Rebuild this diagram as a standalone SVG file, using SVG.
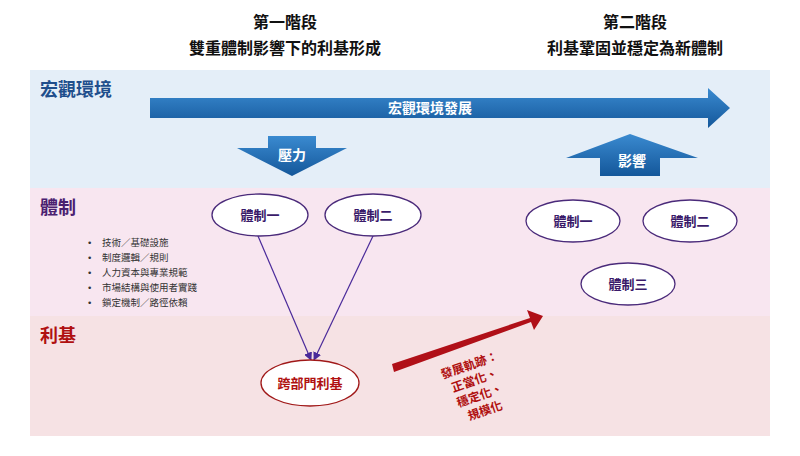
<svg xmlns="http://www.w3.org/2000/svg" width="800" height="456" viewBox="0 0 800 456">
<style>
text{font-family:"Liberation Sans","Noto Sans CJK TC",sans-serif}
.h{font-size:16px;fill:#111;text-anchor:middle;font-weight:bold}
.sec{font-size:18px;font-weight:bold}
.n{font-size:13px;font-weight:bold;fill:#3a1a6a;text-anchor:middle}
.e{fill:#fff;stroke:#4a2a7a;stroke-width:1.3}
.li{font-size:9.5px;fill:#333}
</style>
<defs><marker id="a" viewBox="0 0 10 10" refX="9" refY="5" markerWidth="7" markerHeight="7" orient="auto"><path d="M0,0L10,5L0,10z" fill="#4a2a9a"/></marker>
<linearGradient id="g" x1="0" y1="0" x2="0" y2="1"><stop offset="0" stop-color="#3a8ad0"/><stop offset="1" stop-color="#14579a"/></linearGradient></defs>
<rect x="0" y="0" width="800" height="456" fill="#fff"/>
<rect x="30" y="70" width="740" height="118" fill="#e4eef8"/>
<rect x="30" y="188" width="740" height="128" fill="#f8e6f0"/>
<rect x="30" y="316" width="740" height="120" fill="#f6e2e4"/>
<text class="h" x="285" y="28">第一階段</text>
<text class="h" x="285" y="54">雙重體制影響下的利基形成</text>
<text class="h" x="635" y="28">第二階段</text>
<text class="h" x="635" y="54">利基鞏固並穩定為新體制</text>
<text class="sec" x="40" y="96" fill="#1f4e8c">宏觀環境</text>
<text class="sec" x="40" y="214" fill="#4a2070">體制</text>
<text class="sec" x="40" y="342" fill="#b01010">利基</text>
<g id="macro"><path d="M150,98H708V88L730,108L708,128V118H150z" fill="url(#g)"/><text x="430" y="113" font-size="14" font-weight="bold" fill="#fff" text-anchor="middle">宏觀環境發展</text></g>
<g id="pressure"><path d="M268,136H316V148H347L292,176L237,148H268z" fill="url(#g)"/><text x="292" y="160" font-size="14" font-weight="bold" fill="#fff" text-anchor="middle">壓力</text></g>
<g id="influence"><path d="M600,176H660V158H698L630,134L566,158H600z" fill="url(#g)"/><text x="632" y="166" font-size="14" font-weight="bold" fill="#fff" text-anchor="middle">影響</text></g>
<g id="list" class="li">
<text x="88" y="246">•</text><text x="88" y="261">•</text><text x="88" y="276">•</text><text x="88" y="291">•</text><text x="88" y="306">•</text>
<text x="102" y="246">技術／基礎設施</text><text x="102" y="261">制度邏輯／規則</text><text x="102" y="276">人力資本與專業規範</text><text x="102" y="291">市場結構與使用者實踐</text><text x="102" y="306">鎖定機制／路徑依賴</text></g>
<g id="connectors" stroke="#4a2a9a" stroke-width="1.2" fill="none">
<line x1="258" y1="236" x2="311" y2="360" marker-end="url(#a)"/>
<line x1="373" y1="236" x2="314" y2="360" marker-end="url(#a)"/>
</g>
<g id="r1"><ellipse class="e" cx="260" cy="215" rx="48" ry="21"/><text class="n" x="260" y="220">體制一</text></g>
<g id="r2"><ellipse class="e" cx="373" cy="215" rx="48" ry="21"/><text class="n" x="373" y="220">體制二</text></g>
<g id="r3"><ellipse class="e" cx="573" cy="221" rx="47" ry="21"/><text class="n" x="573" y="226">體制一</text></g>
<g id="r4"><ellipse class="e" cx="690" cy="221" rx="47" ry="21"/><text class="n" x="690" y="226">體制二</text></g>
<g id="r5"><ellipse class="e" cx="628" cy="284" rx="47" ry="21"/><text class="n" x="628" y="289">體制三</text></g>
<g id="niche"><ellipse cx="310" cy="383" rx="49" ry="23" fill="#fff" stroke="#a01818" stroke-width="1.3"/><text x="310" y="388" font-size="13" font-weight="bold" fill="#b01010" text-anchor="middle">跨部門利基</text></g>
<g id="traj"><path d="M392,364L530,318L527,310L543,316L534,330L531,322L394,372z" fill="#b01018"/>
<g transform="rotate(-19 478 390)" font-size="12" font-weight="bold" fill="#b01010" text-anchor="middle"><text x="478" y="368">發展軌跡：</text><text x="478" y="384">正當化、</text><text x="478" y="400">穩定化、</text><text x="478" y="416">規模化</text></g></g>
</svg>
